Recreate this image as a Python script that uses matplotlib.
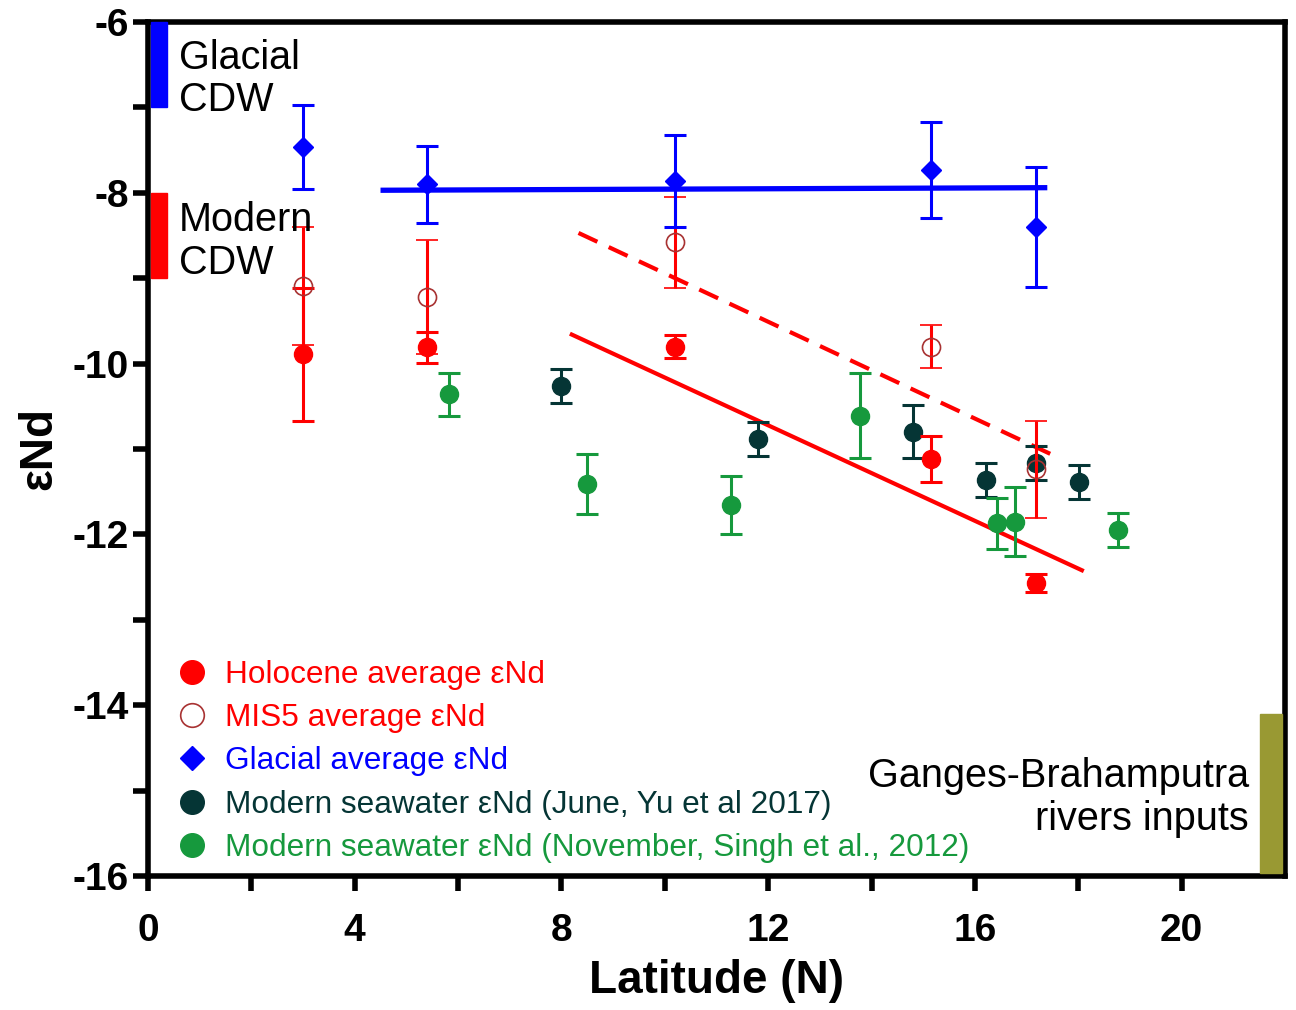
import matplotlib
matplotlib.use('Agg')
import matplotlib.pyplot as plt
from matplotlib.lines import Line2D
from matplotlib.patches import Rectangle

plt.rcParams['font.family'] = ['Liberation Sans', 'DejaVu Sans']
plt.rcParams['axes.unicode_minus'] = False

# --- data ---
core_lat = [2.99, 5.39, 10.2, 15.16, 17.19]

glacial_end = [-7.46, -7.90, -7.86, -7.73, -8.40]
glacial_err = [0.49, 0.45, 0.54, 0.56, 0.70]

holocene_end = [-9.89, -9.81, -9.80, -11.12, -12.57]
holocene_err = [0.78, 0.18, 0.14, 0.27, 0.11]

mis5_end = [-9.09, -9.22, -8.58, -9.80, -11.24]
mis5_err = [0.69, 0.67, 0.53, 0.25, 0.57]

june_lat = [8.0, 11.80, 14.81, 16.21, 17.19, 18.01]
june_end = [-10.26, -10.88, -10.80, -11.36, -11.16, -11.39]
june_err = [0.20, 0.20, 0.31, 0.20, 0.20, 0.20]

nov_lat = [5.82, 8.50, 11.28, 13.78, 16.43, 16.77, 18.76]
nov_end = [-10.36, -11.41, -11.66, -10.61, -11.87, -11.85, -11.95]
nov_err = [0.25, 0.35, 0.34, 0.50, 0.30, 0.40, 0.20]

# regression lines (end points)
glacial_fit_x = [4.55, 17.35]
glacial_fit_y = [-7.97, -7.94]
holocene_fit_x = [8.20, 18.07]
holocene_fit_y = [-9.66, -12.42]
mis5_fit_x = [8.33, 17.54]
mis5_fit_y = [-8.47, -11.08]

# end-member ranges
glacial_cdw = (-7.0, -6.0)
modern_cdw = (-9.0, -8.0)
gb_rivers = (-16.0, -14.1)

RED = '#ff0000'
BLUE = '#0000ff'
DARK = '#053535'
GREEN = '#16993d'
MIS5_EDGE = '#a83232'
OLIVE = '#999933'

fig = plt.figure(figsize=(12.96, 10.10), dpi=100)
ax = fig.add_axes([0.1142, 0.1327, 0.8773, 0.8455])

eb = dict(capsize=8, elinewidth=2.2, capthick=2.2, linestyle='none')

# fit lines
ax.plot(glacial_fit_x, glacial_fit_y, color=BLUE, lw=3.8, zorder=2)
ax.plot(holocene_fit_x, holocene_fit_y, color=RED, lw=3.0, zorder=2)
ax.plot(mis5_fit_x, mis5_fit_y, color=RED, lw=3.0, ls=(0, (5, 3)), zorder=2)

# seawater
ax.errorbar(june_lat, june_end, yerr=june_err, fmt='o', color=DARK, ms=13, zorder=3, **eb)
ax.errorbar(nov_lat, nov_end, yerr=nov_err, fmt='o', color=GREEN, ms=13, zorder=3, **eb)

# cores
ax.errorbar(core_lat, mis5_end, yerr=mis5_err, fmt='o', color=RED, ms=13,
            mfc='none', mec=MIS5_EDGE, mew=1.2, zorder=4, **eb)
ax.errorbar(core_lat, holocene_end, yerr=holocene_err, fmt='o', color=RED, ms=13,
            zorder=4, **eb)
ax.errorbar(core_lat, glacial_end, yerr=glacial_err, fmt='D', color=BLUE, ms=10.5,
            zorder=4, **eb)

# end-member bars
ax.add_patch(Rectangle((0.05, glacial_cdw[0]), 0.32, glacial_cdw[1] - glacial_cdw[0],
                       color=BLUE, zorder=5, clip_on=False))
ax.add_patch(Rectangle((0.05, modern_cdw[0]), 0.32, modern_cdw[1] - modern_cdw[0],
                       color=RED, zorder=5, clip_on=False))
ax.add_patch(Rectangle((21.52, gb_rivers[0] + 0.04), 0.42, gb_rivers[1] - gb_rivers[0] - 0.04,
                       color=OLIVE, zorder=5))

ax.text(0.6, -6.67, 'Glacial\nCDW', fontsize=28.5, va='center', ha='left',
        linespacing=1.15, zorder=6)
ax.text(0.6, -8.57, 'Modern\nCDW', fontsize=28.5, va='center', ha='left',
        linespacing=1.15, zorder=6)
ax.text(21.3, -15.08, 'Ganges-Brahamputra\nrivers inputs', fontsize=28.5,
        va='center', ha='right', linespacing=1.15)

# legend
handles = [
    Line2D([], [], marker='o', ls='none', color=RED, ms=17),
    Line2D([], [], marker='o', ls='none', mfc='none', mec=MIS5_EDGE, mew=1.2, ms=17),
    Line2D([], [], marker='D', ls='none', color=BLUE, ms=12),
    Line2D([], [], marker='o', ls='none', color=DARK, ms=17),
    Line2D([], [], marker='o', ls='none', color=GREEN, ms=17),
]
labels = ['Holocene average εNd', 'MIS5 average εNd', 'Glacial average εNd',
          'Modern seawater εNd (June, Yu et al 2017)',
          'Modern seawater εNd (November, Singh et al., 2012)']
ax.legend(handles, labels, loc='lower left', bbox_to_anchor=(0.0, -0.018),
          frameon=False, fontsize=22.7, handletextpad=0.55, labelspacing=0.42,
          handlelength=1.0,
          labelcolor=[RED, RED, BLUE, DARK, GREEN])

ax.set_xlim(0, 22)
ax.set_ylim(-16, -6)
ax.set_xticks([0, 4, 8, 12, 16, 20])
ax.set_xticks([2, 6, 10, 14, 18], minor=True)
ax.set_yticks([-16, -14, -12, -10, -8, -6])
ax.set_yticks([-15, -13, -11, -9, -7], minor=True)
ax.tick_params(which='both', direction='out', length=11, width=4, top=False, right=False)
ax.tick_params(which='major', labelsize=28)
ax.tick_params(axis='x', which='major', pad=16)
ax.tick_params(axis='y', which='major', pad=3)
for lab in ax.get_xticklabels() + ax.get_yticklabels():
    lab.set_fontweight('bold')
for sp in ax.spines.values():
    sp.set_linewidth(4)

ax.set_xlabel('Latitude (N)', fontsize=33, fontweight='bold', labelpad=7)
ax.set_ylabel('εNd', fontsize=33, fontweight='bold', labelpad=8)

fig.savefig('out.png', dpi=100)
